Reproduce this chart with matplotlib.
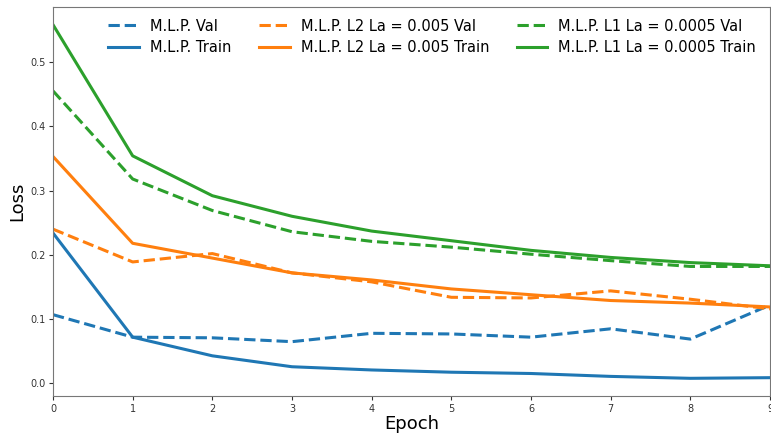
import matplotlib
matplotlib.use("Agg")
import matplotlib.pyplot as plt
import numpy as np

epochs = np.arange(10)

mlp_val = [0.107, 0.072, 0.071, 0.065, 0.078, 0.077, 0.072, 0.085, 0.069, 0.122]
mlp_train = [0.234, 0.072, 0.043, 0.026, 0.021, 0.0175, 0.0155, 0.011, 0.008, 0.009]
l2_val = [0.240, 0.189, 0.202, 0.172, 0.158, 0.134, 0.133, 0.144, 0.131, 0.116]
l2_train = [0.353, 0.218, 0.195, 0.172, 0.161, 0.147, 0.138, 0.129, 0.125, 0.119]
l1_val = [0.455, 0.318, 0.269, 0.236, 0.221, 0.212, 0.201, 0.191, 0.182, 0.182]
l1_train = [0.558, 0.354, 0.292, 0.260, 0.237, 0.222, 0.207, 0.196, 0.188, 0.183]

fig = plt.figure(figsize=(7.71, 4.34), dpi=100)
ax = fig.add_axes([53 / 771, 38 / 434, 717 / 771, 389 / 434])

lw = 2.2
ax.plot(epochs, mlp_val, '--', color='tab:blue', lw=lw, label='M.L.P. Val')
ax.plot(epochs, mlp_train, '-', color='tab:blue', lw=lw, label='M.L.P. Train')
ax.plot(epochs, l2_val, '--', color='tab:orange', lw=lw, label='M.L.P. L2 La = 0.005 Val')
ax.plot(epochs, l2_train, '-', color='tab:orange', lw=lw, label='M.L.P. L2 La = 0.005 Train')
ax.plot(epochs, l1_val, '--', color='tab:green', lw=lw, label='M.L.P. L1 La = 0.0005 Val')
ax.plot(epochs, l1_train, '-', color='tab:green', lw=lw, label='M.L.P. L1 La = 0.0005 Train')

ax.set_xlim(0, 9)
ax.set_xticks(epochs)
ax.tick_params(labelsize=7, colors='#333333', length=3, pad=2.5)
for s in ax.spines.values():
    s.set_color('#777777')
ax.set_xlabel('Epoch', fontsize=13, labelpad=1)
ax.set_ylabel('Loss', fontsize=13, labelpad=3)

ax.legend(ncol=3, frameon=False, fontsize=10.5, loc='upper right',
          bbox_to_anchor=(0.999, 1.004), handlelength=2.1, handletextpad=0.75,
          columnspacing=1.9, labelspacing=0.45)

fig.savefig('out.png', dpi=100)
